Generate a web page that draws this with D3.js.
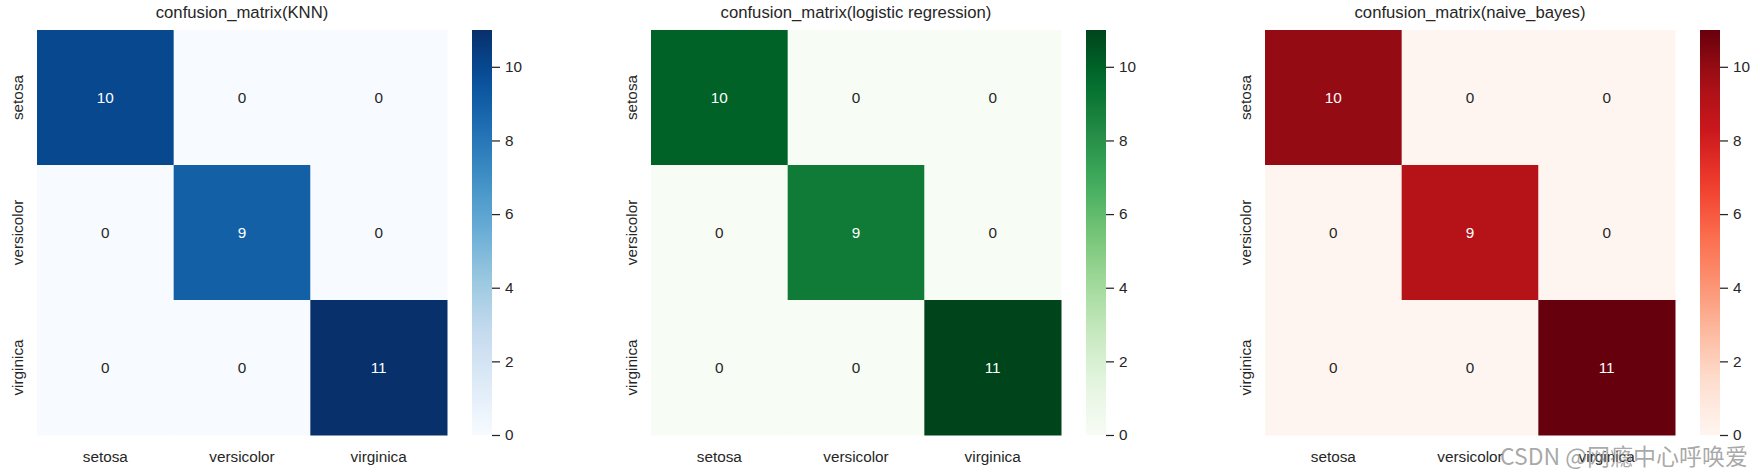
<!DOCTYPE html>
<html>
<head>
<meta charset="utf-8">
<script src="https://cdn.jsdelivr.net/npm/d3@7"></script>
<style>
  body { margin: 0; background: #fff; }
  svg text { font-family: "Liberation Sans", Arial, sans-serif; fill: #262626; }
</style>
</head>
<body>
<script>
// class labels, used on both axes
const classes = ["setosa", "versicolor", "virginica"];

// confusion matrices (rows = true label, columns = predicted label)
const knnMatrix = [[10, 0, 0], [0, 9, 0], [0, 0, 11]];
const logisticMatrix = [[10, 0, 0], [0, 9, 0], [0, 0, 11]];
const bayesMatrix = [[10, 0, 0], [0, 9, 0], [0, 0, 11]];

const titles = ["confusion_matrix(KNN)", "confusion_matrix(logistic regression)", "confusion_matrix(naive_bayes)"];
const colorbarTicks = [0, 2, 4, 6, 8, 10];
const watermark = "CSDN @网瘾中心呼唤爱";

// set the dimensions of the figure and of one heatmap
var width = 1760, height = 472;
var panelStep = 614,
    marginLeft = 37, marginTop = 30,
    mapWidth = 410, mapHeight = 405,
    cbarGap = 25, cbarWidth = 20;

var svg = d3.select("body").append("svg")
    .attr("width", width)
    .attr("height", height);

var defs = svg.append("defs");

// seaborn picks white or dark annotation text from the cell luminance
function textColor(c) {
    var rgb = d3.rgb(c);
    var lin = [rgb.r, rgb.g, rgb.b].map(function(v) {
        v = v / 255;
        return v <= 0.03928 ? v / 12.92 : Math.pow((v + 0.055) / 1.055, 2.4);
    });
    var lum = 0.2126 * lin[0] + 0.7152 * lin[1] + 0.0722 * lin[2];
    return lum > 0.408 ? "#262626" : "#ffffff";
}

function drawHeatmap(index, matrix, title, scheme) {

    var g = svg.append("g")
        .attr("transform", "translate(" + (marginLeft + index * panelStep) + "," + marginTop + ")");

    var values = matrix.flat();
    var color = d3.scaleSequential(d3.piecewise(d3.interpolateRgb, scheme))
        .domain([d3.min(values), d3.max(values)]);

    var x = d3.scaleBand().domain(classes).range([0, mapWidth]);
    var y = d3.scaleBand().domain(classes).range([0, mapHeight]);

    var cells = [];
    matrix.forEach(function(row, i) {
        row.forEach(function(v, j) {
            cells.push({ row: classes[i], col: classes[j], value: v });
        });
    });

    // the cells
    g.selectAll(".cell")
        .data(cells)
        .enter().append("rect")
        .attr("class", "cell")
        .attr("x", function(d) { return x(d.col); })
        .attr("y", function(d) { return y(d.row); })
        .attr("width", x.bandwidth() + 0.5)
        .attr("height", y.bandwidth() + 0.5)
        .attr("fill", function(d) { return color(d.value); });

    // the annotations
    g.selectAll(".annot")
        .data(cells)
        .enter().append("text")
        .attr("class", "annot")
        .attr("x", function(d) { return x(d.col) + x.bandwidth() / 2; })
        .attr("y", function(d) { return y(d.row) + y.bandwidth() / 2; })
        .attr("dy", "0.35em")
        .attr("text-anchor", "middle")
        .style("font-size", "15.3px")
        .style("fill", function(d) { return textColor(color(d.value)); })
        .text(function(d) { return d.value; });

    // title
    g.append("text")
        .attr("x", mapWidth / 2)
        .attr("y", -12)
        .attr("text-anchor", "middle")
        .style("font-size", "16.7px")
        .text(title);

    // x tick labels
    g.selectAll(".xlabel")
        .data(classes)
        .enter().append("text")
        .attr("class", "xlabel")
        .attr("x", function(d) { return x(d) + x.bandwidth() / 2; })
        .attr("y", mapHeight + 27)
        .attr("text-anchor", "middle")
        .style("font-size", "15.3px")
        .text(function(d) { return d; });

    // y tick labels, rotated
    g.selectAll(".ylabel")
        .data(classes)
        .enter().append("text")
        .attr("class", "ylabel")
        .attr("transform", function(d) {
            return "translate(-14.5," + (y(d) + y.bandwidth() / 2) + ") rotate(-90)";
        })
        .attr("text-anchor", "middle")
        .style("font-size", "15.3px")
        .text(function(d) { return d; });

    // colorbar
    var gradId = "cbar-" + index;
    var grad = defs.append("linearGradient")
        .attr("id", gradId)
        .attr("x1", 0).attr("y1", 1)
        .attr("x2", 0).attr("y2", 0);
    d3.range(0, 1.0001, 0.05).forEach(function(t) {
        grad.append("stop")
            .attr("offset", t)
            .attr("stop-color", color(color.domain()[0] + t * (color.domain()[1] - color.domain()[0])));
    });

    var cbar = g.append("g")
        .attr("transform", "translate(" + (mapWidth + cbarGap) + ",0)");

    cbar.append("rect")
        .attr("width", cbarWidth)
        .attr("height", mapHeight)
        .attr("fill", "url(#" + gradId + ")");

    var cscale = d3.scaleLinear()
        .domain(color.domain())
        .range([mapHeight, 0]);

    var axis = cbar.append("g")
        .attr("transform", "translate(" + cbarWidth + ",0)")
        .call(d3.axisRight(cscale).tickValues(colorbarTicks).tickSize(8).tickPadding(5));

    axis.select(".domain").remove();
    axis.selectAll(".tick line")
        .attr("stroke", "#262626")
        .attr("stroke-width", 1.25);
    axis.selectAll(".tick text")
        .attr("fill", "#262626")
        .style("font-family", "'Liberation Sans', Arial, sans-serif")
        .style("font-size", "15.3px");
}

drawHeatmap(0, knnMatrix, titles[0], d3.schemeBlues[9]);
drawHeatmap(1, logisticMatrix, titles[1], d3.schemeGreens[9]);
drawHeatmap(2, bayesMatrix, titles[2], d3.schemeReds[9]);

// blog watermark in the bottom right corner
svg.append("text")
    .attr("x", 1748)
    .attr("y", 465)
    .attr("text-anchor", "end")
    .style("font-family", "'Noto Sans CJK SC', 'Liberation Sans', sans-serif")
    .style("font-size", "23px")
    .style("fill", "rgba(130,130,130,0.7)")
    .text(watermark);
</script>
</body>
</html>
